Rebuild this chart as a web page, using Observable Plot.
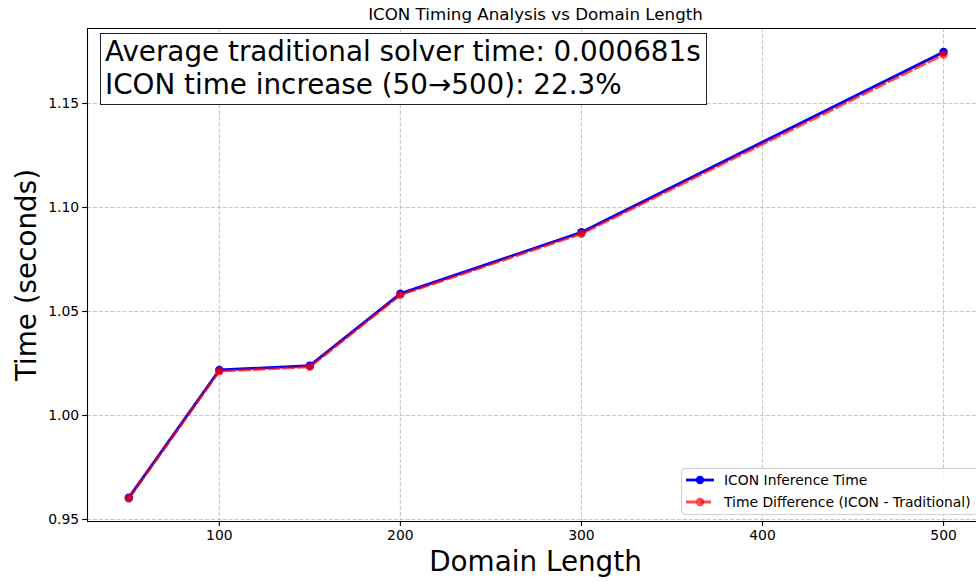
<!DOCTYPE html>
<html>
<head>
<meta charset="utf-8">
<script src="https://cdn.jsdelivr.net/npm/d3@7"></script>
<script src="https://cdn.jsdelivr.net/npm/@observablehq/plot@0.6"></script>
<style>
  html, body { margin: 0; padding: 0; background: #fff; }
  #wrap { position: relative; width: 976px; height: 582px; overflow: hidden; font-family: "DejaVu Sans", sans-serif; }
  .abs { position: absolute; white-space: nowrap; color: #000; }
  #title { left: 0; width: 1071px; top: 4px; text-align: center; font-size: 16.7px; }
  #ylabel { left: 26px; top: 275px; font-size: 27.8px; transform: translate(-50%, -50%) rotate(-90deg); }
  #xlabel { left: 0; width: 1071px; top: 545px; text-align: center; font-size: 27.8px; }
  #note { left: 100px; top: 33px; border: 1.2px solid #222; background: #fff; font-size: 27.8px; line-height: 33px; padding: 1px 5px 3px 4px; }
  #legend { left: 681px; top: 468px; width: 320px; height: 45px; border: 1px solid #d0d0d0; border-radius: 4px; background: rgba(255,255,255,0.85); font-size: 13.9px; }
  .lrow { position: absolute; left: 4px; height: 20px; display: flex; align-items: center; }
  .lrow span { margin-left: 10px; }
</style>
</head>
<body>
<div id="wrap">
  <div id="chart"></div>
  <div class="abs" id="title">ICON Timing Analysis vs Domain Length</div>
  <div class="abs" id="ylabel">Time (seconds)</div>
  <div class="abs" id="xlabel">Domain Length</div>
  <div class="abs" id="note">Average traditional solver time: 0.000681s<br>ICON time increase (50→500): 22.3%</div>
  <div class="abs" id="legend">
    <div class="lrow" style="top:1px"><svg width="28" height="12"><line x1="0" y1="6" x2="28" y2="6" stroke="blue" stroke-width="2.8"/><circle cx="14" cy="6" r="4.2" fill="blue"/></svg><span>ICON Inference Time</span></div>
    <div class="lrow" style="top:23px"><svg width="28" height="12"><line x1="0" y1="6" x2="28" y2="6" stroke="red" stroke-opacity="0.7" stroke-width="2.8" stroke-dasharray="10.3,4.4"/><circle cx="14" cy="6" r="4.2" fill="red" fill-opacity="0.7"/></svg><span>Time Difference (ICON - Traditional)</span></div>
  </div>
</div>
<script>
const domainLengths = [50, 100, 150, 200, 300, 500];
const iconTime = [0.9605, 1.0219, 1.0240, 1.0586, 1.0881, 1.1748];
const timeDiff = [0.9601, 1.0213, 1.0234, 1.0580, 1.0874, 1.1735];
const xTicks = [100, 200, 300, 400, 500];
const yTicks = [0.95, 1.00, 1.05, 1.10, 1.15];

const xDom = [27.2, 518.2];
const yDom = [0.94904, 1.18606];

const blue = domainLengths.map((d, i) => ({x: d, y: iconTime[i]}));
const red = domainLengths.map((d, i) => ({x: d, y: timeDiff[i]}));

const grid = {stroke: "#b0b0b0", strokeOpacity: 0.7, strokeWidth: 1.1, strokeDasharray: "4.1,1.8"};

const chart = Plot.plot({
  width: 976,
  height: 582,
  marginTop: 28,
  marginRight: 0,
  marginBottom: 61,
  marginLeft: 87,
  style: {fontFamily: "DejaVu Sans", fontSize: "13.9px", color: "#000", background: "transparent"},
  x: {domain: xDom},
  y: {domain: yDom},
  marks: [
    Plot.gridX(xTicks, grid),
    Plot.gridY(yTicks, grid),
    Plot.axisX(xTicks, {tickSize: 4.9, tickPadding: 3.5, tickFormat: d => String(d), label: null, fontSize: 13.9, strokeWidth: 1.1}),
    Plot.axisY(yTicks, {tickSize: 4.9, tickPadding: 3.5, tickFormat: d3.format(".2f"), label: null, fontSize: 13.9, strokeWidth: 1.1}),
    Plot.ruleX([xDom[0]], {stroke: "#000", strokeWidth: 1.1}),
    Plot.ruleY([yDom[0], yDom[1]], {stroke: "#000", strokeWidth: 1.1}),
    Plot.line(blue, {x: "x", y: "y", stroke: "blue", strokeWidth: 2.8}),
    Plot.dot(blue, {x: "x", y: "y", r: 4.2, fill: "blue", stroke: "none"}),
    Plot.line(red, {x: "x", y: "y", stroke: "red", strokeOpacity: 0.7, strokeWidth: 2.8, strokeDasharray: "10.3,4.4"}),
    Plot.dot(red, {x: "x", y: "y", r: 4.2, fill: "red", fillOpacity: 0.7, stroke: "none"})
  ]
});
document.getElementById("chart").appendChild(chart);
</script>
</body>
</html>
